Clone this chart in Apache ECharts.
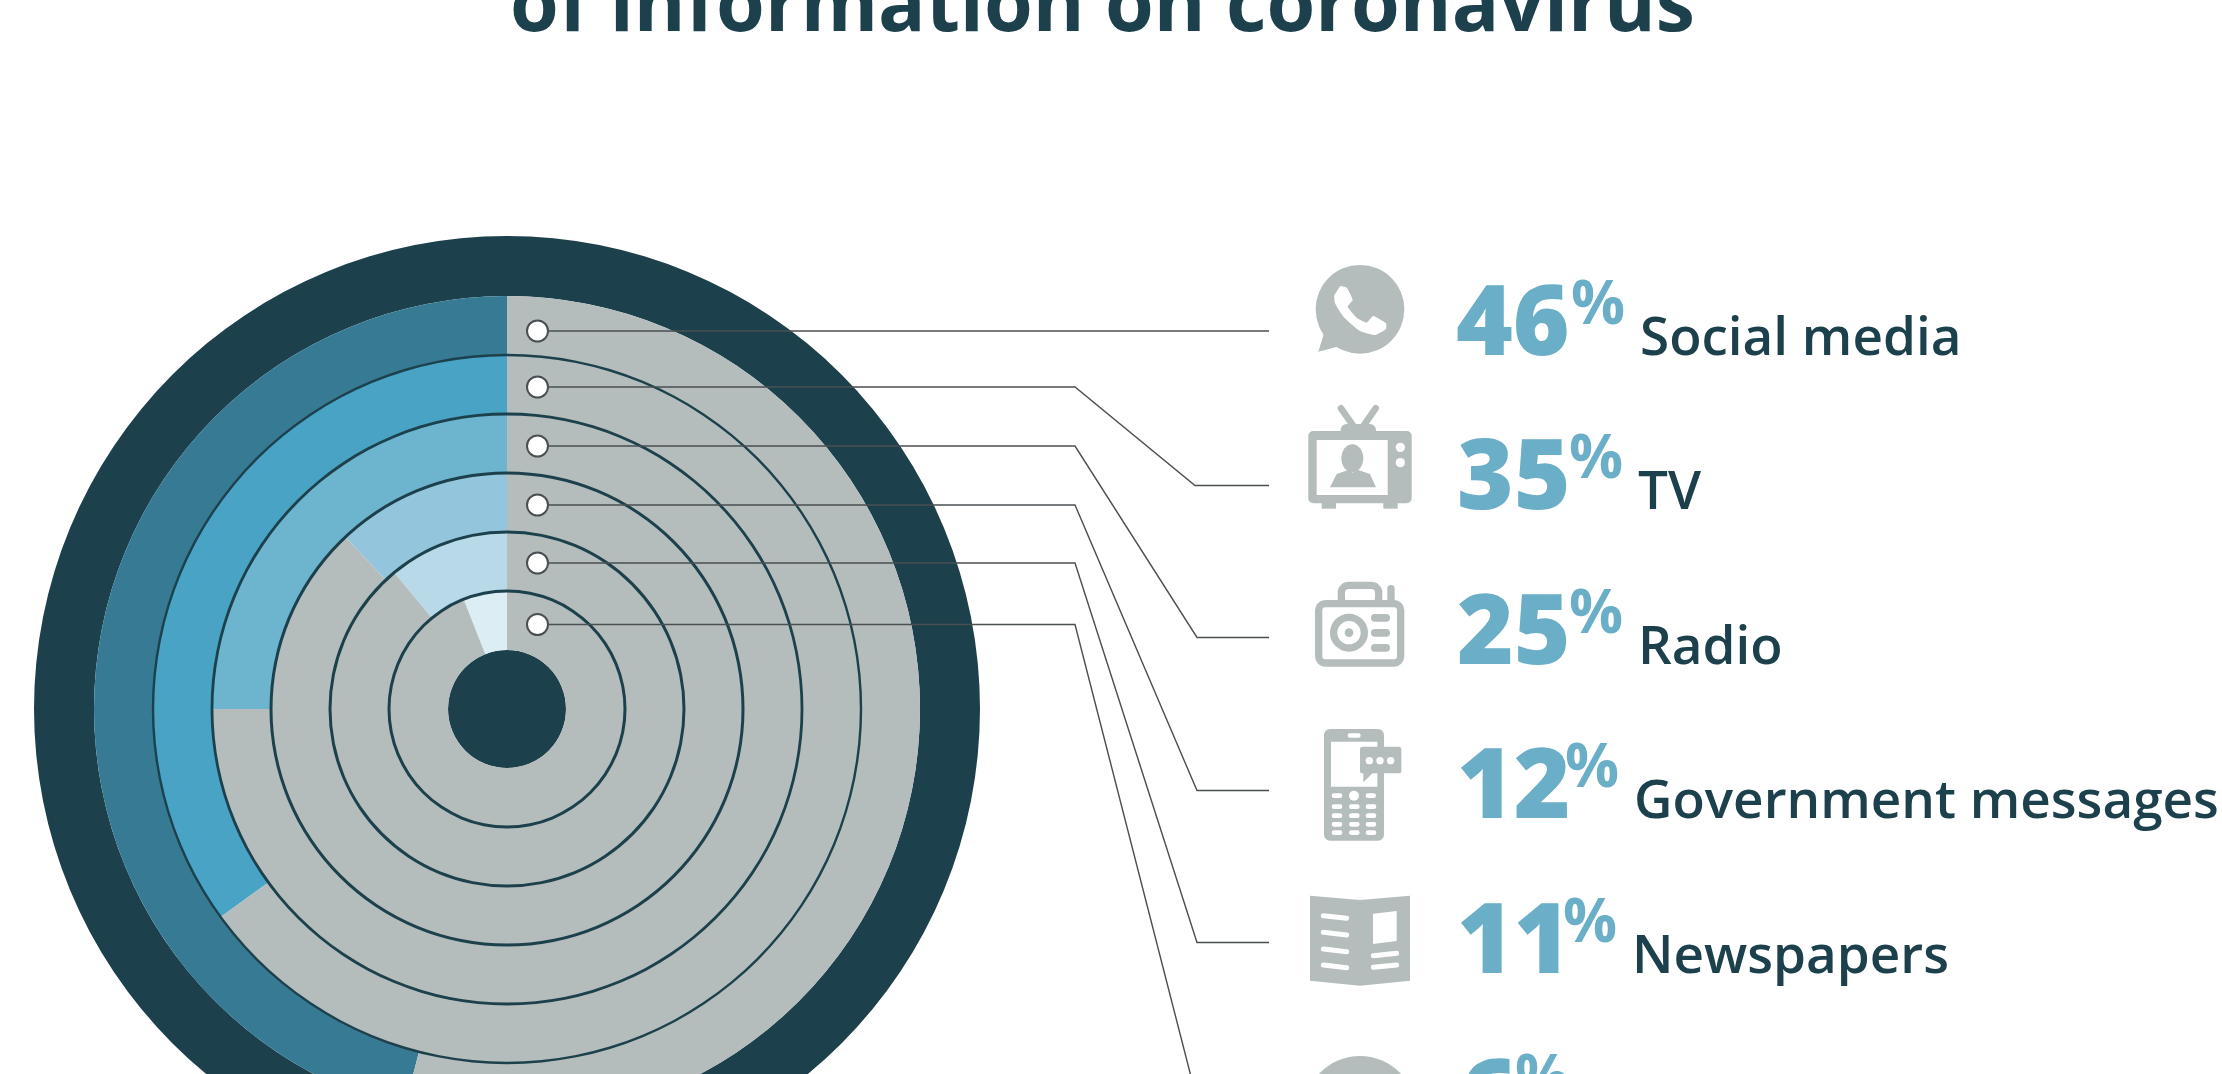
<!DOCTYPE html>
<html>
  <head>
    <meta charset="utf-8" />
    <title>Sources of information on coronavirus</title>
    <script src="https://cdn.jsdelivr.net/npm/echarts/dist/echarts.min.js"></script>
    <style>
      html, body { margin: 0; padding: 0; background: #fff; overflow: hidden; }
    </style>
  </head>
  <body>
    <div id="main" style="width: 2222px; height: 1074px;"></div>
    <script type="text/javascript">
      // data
      var titleText = 'of information on coronavirus';
      var categories = ['Social media', 'TV', 'Radio', 'Government messages', 'Newspapers', ''];
      var shares = [46, 35, 25, 12, 11, 6];
      var ringColors = ['#377a94', '#48a3c5', '#6db4cf', '#93c6dc', '#b7d9e8', '#dceef4'];

      // layout
      var dark = '#1d414c', grey = '#b4bdbc', blue = '#6aaec8', lineColor = '#4a4f51';
      var cx = 507, cy = 709, step = 59;
      var rowBaseline = [355, 509, 664, 818, 973, 1129];
      var numberX = [1456, 1457, 1457, 1457, 1457, 1460];
      var percentX = [1571, 1569, 1569, 1565, 1563, 1515];
      var labelX = [1640, 1638, 1638, 1634, 1632, 1600];
      var dotY = [331, 387, 446, 505, 563, 624.5];
      var elbowX = [null, 1075, 1075, 1075, 1075, 1075];
      var turnX = [null, 1195, 1197, 1197, 1197, 1196];
      var endY = [331, 485.5, 637.5, 790.5, 942.5, 1096];
      var ringLineWidth = { 2: 3, 3: 3, 4: 3, 5: 2.8, 6: 2.4 };

      var series = [];
      // outer band and centre disc
      series.push(pie([step * 7, 473], [{ value: 1, itemStyle: { color: dark } }]));
      series.push(pie([0, step], [{ value: 1, itemStyle: { color: dark } }]));
      // one ring per category, outermost first
      shares.forEach(function (v, i) {
        var outer = step * (7 - i);
        series.push(pie([outer - step, outer], [
          { value: v, itemStyle: { color: ringColors[i] } },
          { value: 100 - v, itemStyle: { color: grey } }
        ]));
      });
      // thin rings between the bands
      [2, 3, 4, 5, 6].forEach(function (k) {
        var w = ringLineWidth[k] / 2;
        series.push(pie([step * k - w, step * k + w], [{ value: 1, itemStyle: { color: dark } }]));
      });

      function pie(radius, data) {
        return {
          type: 'pie',
          silent: true,
          center: [cx, cy],
          radius: radius,
          startAngle: 90,
          clockwise: false,
          label: { show: false },
          labelLine: { show: false },
          emphasis: { disabled: true },
          data: data
        };
      }

      var g = [];

      function text(str, x, baseline, size, weight, color) {
        g.push({
          type: 'text',
          z: 10,
          x: x,
          y: baseline - size * 0.288,
          style: {
            text: str,
            fill: color,
            font: weight + ' ' + size + 'px "Open Sans"',
            align: 'left',
            verticalAlign: 'middle'
          }
        });
      }

      text(titleText, 510, 31, 78.8, 700, dark);

      categories.forEach(function (name, i) {
        text(String(shares[i]), numberX[i], rowBaseline[i], 97, 800, blue);
        text('%', percentX[i], rowBaseline[i] - 31, 60, 700, blue);
        if (name) text(name, labelX[i], rowBaseline[i], 53, 600, dark);
        // leader line and dot
        var pts = [[537.5, dotY[i]]];
        if (elbowX[i]) {
          pts.push([elbowX[i], dotY[i]]);
          pts.push([turnX[i], endY[i]]);
        }
        pts.push([1269, endY[i]]);
        if (i === 5) pts.pop();
        g.push({ type: 'polyline', z: 8, shape: { points: pts }, style: { stroke: lineColor, lineWidth: 1.4, fill: null } });
        g.push({ type: 'circle', z: 9, shape: { cx: 537.5, cy: dotY[i], r: 10.5 }, style: { fill: '#fff', stroke: lineColor, lineWidth: 2 } });
      });

      // icons: sketched in 3x crop units around an origin
      function icon(ox, oy) {
        var t = function (p) { return [ox + p[0] / 3, oy + p[1] / 3]; };
        return {
          circle: function (x, y, r, fill, stroke, lw) {
            g.push({ type: 'circle', z: 5, shape: { cx: ox + x / 3, cy: oy + y / 3, r: r / 3 }, style: { fill: fill || null, stroke: stroke || null, lineWidth: (lw || 0) / 3 } });
          },
          ellipse: function (x, y, rx, ry, fill) {
            g.push({ type: 'ellipse', z: 5, shape: { cx: ox + x / 3, cy: oy + y / 3, rx: rx / 3, ry: ry / 3 }, style: { fill: fill } });
          },
          rect: function (x0, y0, x1, y1, r, fill, stroke, lw) {
            g.push({ type: 'rect', z: 5, shape: { x: ox + x0 / 3, y: oy + y0 / 3, width: (x1 - x0) / 3, height: (y1 - y0) / 3, r: r / 3 }, style: { fill: fill || null, stroke: stroke || null, lineWidth: (lw || 0) / 3 } });
          },
          poly: function (pts, fill, smooth) {
            g.push({ type: 'polygon', z: 5, shape: { points: pts.map(t), smooth: smooth || 0 }, style: { fill: fill } });
          },
          line: function (a, b, lw, color) {
            var p = t(a), q = t(b);
            g.push({ type: 'line', z: 5, shape: { x1: p[0], y1: p[1], x2: q[0], y2: q[1] }, style: { stroke: color, lineWidth: lw / 3, lineCap: 'round' } });
          }
        };
      }

      // speech bubble with handset
      var a = icon(1300, 255);
      a.circle(180, 163, 133, grey);
      a.poly([[55, 290], [72, 235], [112, 275]], grey);
      a.poly([[103, 122], [122, 93], [140, 98], [158, 135], [143, 155], [172, 190], [200, 203], [220, 183], [258, 205], [258, 222], [225, 240], [180, 228], [130, 185], [105, 145]], '#fff', 0.15);

      // television
      var b = icon(1295, 400);
      b.line([138, 25], [178, 82], 20, grey);
      b.line([242, 25], [202, 82], 20, grey);
      b.rect(137, 72, 243, 110, 18, grey);
      b.rect(80, 300, 123, 326, 0, grey);
      b.rect(265, 300, 308, 326, 0, grey);
      b.rect(40, 93, 350, 310, 15, grey);
      b.rect(65, 120, 278, 285, 0, '#fff');
      b.ellipse(172, 175, 33, 42, grey);
      b.poly([[105, 262], [125, 222], [160, 210], [172, 218], [190, 210], [225, 222], [243, 262]], grey);
      b.circle(316, 142, 14, '#fff');
      b.circle(316, 188, 14, '#fff');

      // radio
      var c = icon(1300, 570);
      c.rect(124, 46, 236, 106, 22, null, grey, 22);
      c.rect(262, 45, 284, 100, 11, grey);
      c.rect(56, 101, 302, 279, 20, '#fff', grey, 22);
      c.circle(147, 188, 46, '#fff', grey, 22);
      c.circle(147, 188, 13, grey);
      [132, 177, 222].forEach(function (y) { c.rect(213, y, 270, y + 23, 11, grey); });

      // mobile phone
      var d = icon(1300, 720);
      d.rect(72, 27, 252, 362, 18, grey);
      d.rect(143, 40, 182, 53, 6, '#fff');
      d.rect(93, 65, 232, 200, 0, '#fff');
      d.rect(180, 80, 304, 160, 8, grey);
      d.poly([[190, 155], [190, 187], [222, 155]], grey);
      [208, 240, 272].forEach(function (x) { d.circle(x, 122, 11, '#fff'); });
      d.rect(95, 220, 127, 234, 7, '#fff');
      d.circle(162, 227, 15, '#fff');
      d.rect(197, 220, 228, 234, 7, '#fff');
      [260, 287, 313, 338].forEach(function (y) {
        [95, 147, 197].forEach(function (x) { d.rect(x, y - 7, x + 32, y + 7, 7, '#fff'); });
      });

      // newspaper
      var e = icon(1295, 885);
      e.poly([[45, 32], [195, 45], [345, 32], [345, 287], [195, 302], [45, 287]], grey);
      [92, 142, 192, 240].forEach(function (y) { e.line([85, y], [155, y + 8], 15, '#fff'); });
      e.poly([[234, 86], [305, 78], [305, 168], [234, 177]], '#fff');
      e.line([235, 212], [305, 205], 15, '#fff');
      e.line([235, 247], [305, 240], 15, '#fff');

      // last icon, only its top shows
      g.push({ type: 'circle', z: 5, shape: { cx: 1360, cy: 1112, r: 56 }, style: { fill: grey } });

      var myChart = echarts.init(document.getElementById('main'));
      myChart.setOption({
        animation: false,
        backgroundColor: '#fff',
        tooltip: { show: false },
        series: series,
        graphic: { elements: g }
      });
    </script>
  </body>
</html>
